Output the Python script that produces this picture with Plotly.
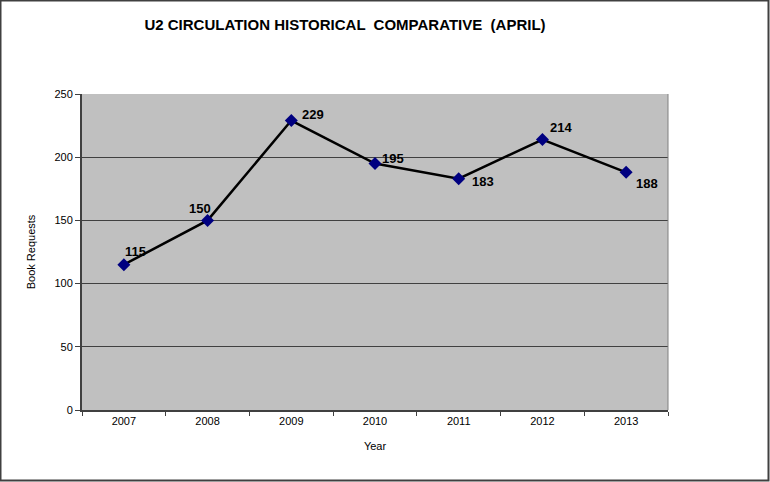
import plotly.graph_objects as go

years = ["2007", "2008", "2009", "2010", "2011", "2012", "2013"]
requests = [115, 150, 229, 195, 183, 214, 188]
label_dx = [12, -8, 22, 18, 24, 19, 21]
label_dy = [13, 12, 6, 5, -3, 12, -11]

W, H = 770, 482
L, R, T, B = 82, 102, 94, 72
pw, ph = W - L - R, H - T - B

fig = go.Figure()
fig.add_trace(go.Scatter(
    x=years, y=requests, mode="lines+markers",
    line=dict(color="black", width=2.5),
    marker=dict(symbol="diamond", size=10, color="#000080",
                line=dict(color="#000080", width=0)),
    showlegend=False, hoverinfo="skip"))

for i, (y, dx, dy) in enumerate(zip(requests, label_dx, label_dy)):
    fig.add_annotation(x=i, y=y, text="<b>%d</b>" % y, showarrow=False,
                       xshift=dx, yshift=dy,
                       font=dict(family="Liberation Sans, Arial", size=13, color="black"))

fig.add_shape(type="rect", xref="paper", yref="paper",
              x0=-L / pw + 0.5 / pw, x1=(W - L) / pw - 1.5 / pw,
              y0=-B / ph + 1.5 / ph, y1=(H - B) / ph - 0.5 / ph,
              line=dict(color="#404040", width=2), layer="below")

fig.update_layout(
    width=W, height=H,
    margin=dict(l=L, r=R, t=T, b=B),
    paper_bgcolor="white", plot_bgcolor="#C0C0C0",
    font=dict(family="Liberation Sans, Arial", color="black"),
    title=dict(text="<b>U2 CIRCULATION HISTORICAL  COMPARATIVE  (APRIL)</b>",
               x=345 / W, xanchor="center", y=1 - 25 / H, yanchor="middle",
               font=dict(size=15, color="black")),
    xaxis=dict(type="category", tickson="boundaries", ticks="outside", ticklen=4,
               tickcolor="#404040", showline=True, linecolor="#404040", linewidth=2,
               mirror=False, showgrid=False, tickfont=dict(size=11),
               title=dict(text="Year", font=dict(size=11), standoff=16),
               range=[-0.5, 6.5]),
    yaxis=dict(range=[0, 250], tickvals=[0, 50, 100, 150, 200, 250],
               ticks="outside", ticklen=5, tickcolor="#404040",
               showline=True, linecolor="#404040", linewidth=2,
               showgrid=True, gridcolor="#404040", gridwidth=1,
               zeroline=False, tickfont=dict(size=11),
               title=dict(text="Book Requests", font=dict(size=11), standoff=17)),
)
fig.add_shape(type="line", xref="paper", yref="paper", x0=1, x1=1, y0=0, y1=1,
              line=dict(color="#808080", width=1))
fig.write_html("out.html", config={"displayModeBar": False},
               post_script="document.body.style.margin='0';document.body.style.overflow='hidden';")
